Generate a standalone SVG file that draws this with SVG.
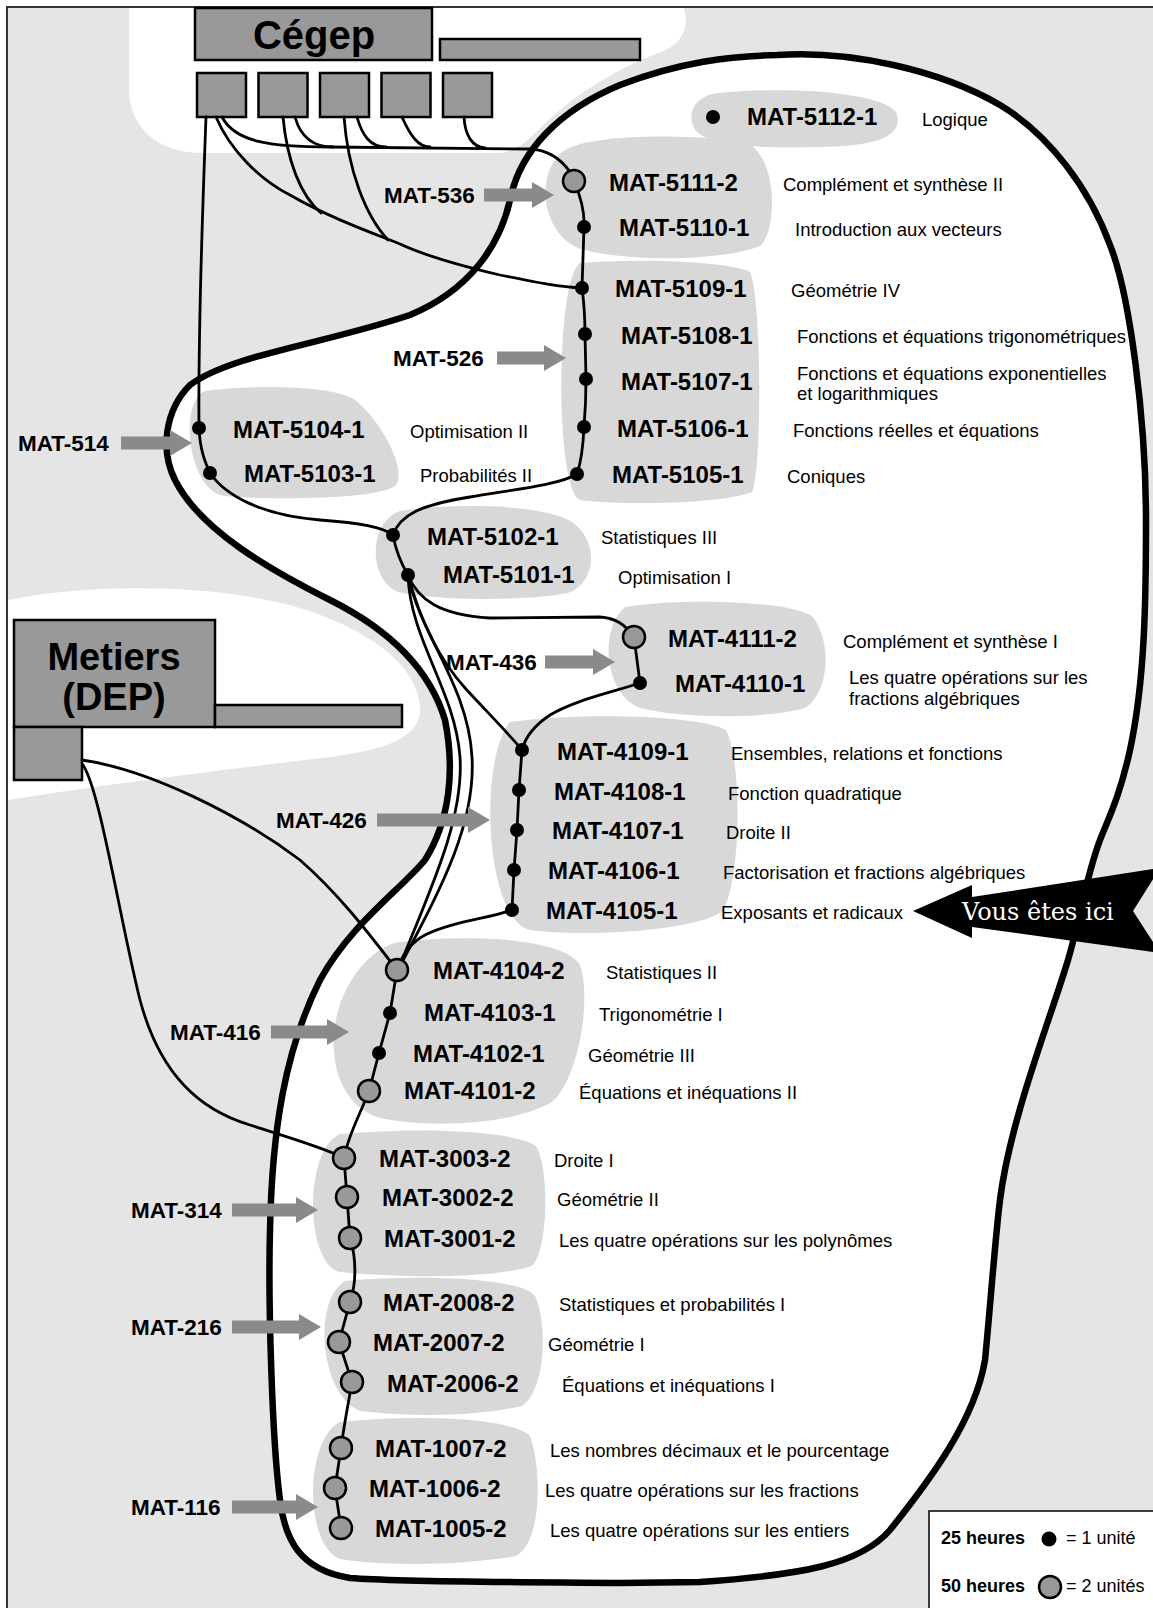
<svg xmlns="http://www.w3.org/2000/svg" width="1153" height="1608" viewBox="0 0 1153 1608">
<style>
.code{font-family:"Liberation Sans",Arial,sans-serif;font-weight:bold;font-size:24px;fill:#000}
.desc{font-family:"Liberation Sans",Arial,sans-serif;font-size:18.5px;fill:#000}
.side{font-family:"Liberation Sans",Arial,sans-serif;font-weight:bold;font-size:22.5px;fill:#000}
.conn{fill:none;stroke:#000;stroke-width:2.8;stroke-linecap:round}
.dot{fill:#000}
.circ{fill:#999;stroke:#000;stroke-width:2.5}
.blob{fill:#d8d8d8}
.arrow{fill:#8a8a8a}
.box{fill:#999;stroke:#000;stroke-width:2.5}
.leg{font-family:"Liberation Sans",Arial,sans-serif;font-size:18px;fill:#000}
</style>
<rect x="0" y="0" width="1153" height="1608" fill="#fff"/>
<rect x="7" y="7" width="1160" height="1620" fill="#e5e5e5" stroke="#333" stroke-width="2"/>
<path d="M129,8 L684,8 C690,30 680,45 661,52 C630,63 590,85 560,110 C535,130 525,150 500,153 L200,153 C155,152 129,125 129,90 Z" fill="#fff"/>
<path d="M8,600 C80,585 200,582 290,605 C360,625 415,660 420,705 C423,740 380,750 330,757 C220,770 100,785 8,800 Z" fill="#fff"/>
<g id="outline">
<path d="M777,55 C850,50 940,70 1000,105 C1050,135 1090,190 1110,245 C1130,295 1146,420 1146,520 C1146,600 1145,680 1130,750 C1120,795 1110,815 1100,840 C1085,880 1080,920 1068,960 C1050,1020 1010,1120 1000,1200 C995,1240 990,1310 985,1360 C975,1420 930,1480 890,1530 C860,1565 800,1575 700,1582 L620,1583 C500,1582 400,1582 350,1578 C300,1570 285,1540 280,1500 C272,1440 268,1300 270,1230 C272,1130 285,1050 320,980 C350,925 400,890 425,860 C450,820 455,770 445,720 C430,670 390,630 330,600 C270,570 200,530 175,480 C160,450 165,410 190,385 C230,355 320,345 410,315 C470,290 500,245 510,200 C520,150 560,110 620,85 C680,62 730,56 777,55 Z" fill="#fff" stroke="#000" stroke-width="6.5"/>
</g>
<g id="areas">
<path class="blob" d="M718,93 C790,86 880,92 896,112 C905,135 880,146 820,147 C760,148 705,147 694,128 C686,110 698,95 718,93 Z"/>
<path class="blob" d="M565,150 C595,133 690,134 745,142 C778,155 778,230 760,246 C720,262 620,262 578,248 C540,232 535,170 565,150 Z"/>
<path class="blob" d="M580,263 C650,258 730,262 750,272 C762,300 762,470 752,492 C720,505 610,505 580,500 C555,492 555,280 580,263 Z"/>
<path class="blob" d="M205,391 C260,384 335,386 355,400 C380,420 405,465 397,484 C385,500 270,500 225,496 C188,492 178,402 205,391 Z"/>
<path class="blob" d="M400,511 C460,502 545,505 572,522 C598,540 598,582 568,593 C520,602 430,600 398,592 C368,580 368,522 400,511 Z"/>
<path class="blob" d="M625,607 C680,598 785,600 812,616 C832,640 830,692 805,708 C760,720 680,718 640,708 C605,695 598,630 625,607 Z"/>
<path class="blob" d="M510,722 C580,712 700,715 726,730 C742,760 742,880 722,912 C690,932 580,937 530,930 C485,920 478,760 510,722 Z"/>
<path class="blob" d="M400,942 C470,934 565,938 580,965 C592,1000 578,1080 552,1102 C510,1126 430,1128 380,1118 C340,1106 328,1060 336,1020 C342,985 370,946 400,942 Z"/>
<path class="blob" d="M340,1134 C420,1127 512,1130 536,1146 C550,1170 548,1250 532,1266 C490,1279 400,1278 340,1272 C305,1265 303,1150 340,1134 Z"/>
<path class="blob" d="M345,1281 C420,1274 522,1278 535,1296 C547,1320 547,1388 522,1406 C470,1418 400,1416 360,1411 C320,1396 312,1300 345,1281 Z"/>
<path class="blob" d="M340,1422 C420,1414 512,1418 530,1436 C542,1470 542,1542 516,1556 C460,1566 380,1566 340,1559 C304,1545 304,1440 340,1422 Z"/>
</g>
<g id="cegep">
<rect class="box" x="195" y="8" width="237" height="52"/>
<text x="314" y="49" text-anchor="middle" style="font-family:'Liberation Sans',Arial,sans-serif;font-weight:bold;font-size:40px">Cégep</text>
<rect class="box" x="440" y="39" width="200" height="21"/>
<rect class="box" x="197" y="73" width="49" height="44"/>
<rect class="box" x="258.5" y="73" width="49" height="44"/>
<rect class="box" x="320" y="73" width="49" height="44"/>
<rect class="box" x="381.5" y="73" width="49" height="44"/>
<rect class="box" x="443" y="73" width="49" height="44"/>
</g>
<g id="metiers">
<rect class="box" x="14" y="620" width="201" height="107"/>
<text x="114" y="670" text-anchor="middle" style="font-family:'Liberation Sans',Arial,sans-serif;font-weight:bold;font-size:38px">Metiers</text>
<text x="114" y="710" text-anchor="middle" style="font-family:'Liberation Sans',Arial,sans-serif;font-weight:bold;font-size:38px">(DEP)</text>
<rect class="box" x="215" y="705" width="187" height="22"/>
<rect class="box" x="14" y="727" width="68" height="53"/>
</g>
<g id="connectors">
<path class="conn" d="M222,117 C235,142 270,147 330,147 L530,149 C550,150 563,162 570,172"/>
<path class="conn" d="M295,117 C300,135 312,147 333,147"/>
<path class="conn" d="M357,117 C362,135 370,147 386,147"/>
<path class="conn" d="M402,117 C410,135 418,147 430,147"/>
<path class="conn" d="M464,117 C465,135 472,147 485,148"/>
<path class="conn" d="M216,117 C230,150 260,180 290,195 C330,218 370,232 400,244 C430,258 470,268 500,275 C540,283 560,287 582,288"/>
<path class="conn" d="M283,117 C287,160 300,195 321,213"/>
<path class="conn" d="M344,117 C348,170 365,215 388,240"/>
<path class="conn" d="M206,117 C203,200 198,320 199,428 C200,450 205,462 210,473 C225,495 260,515 320,520 C360,523 383,527 393,535"/>
<path class="conn" d="M574,181 C580,195 585,210 584,227 L582,288 C585,310 585,320 585,334 L586,379 C586,400 585,415 584,427 C583,450 580,465 577,474 C560,485 510,490 470,497 C420,505 400,515 393,535"/>
<path class="conn" d="M393,535 C396,552 402,565 408,575"/>
<path class="conn" d="M408,575 C418,600 440,615 490,618 L600,617 C615,618 625,624 634,637 L640,683 C610,693 575,700 550,715 C535,725 525,738 522,750"/>
<path class="conn" d="M408,575 C420,620 440,660 465,688 C490,715 510,735 522,750"/>
<path class="conn" d="M408,575 C410,640 455,690 460,757 C464,820 430,890 398,970"/>
<path class="conn" d="M408,575 C420,635 468,685 472,757 C476,825 440,890 398,970"/>
<path class="conn" d="M522,750 L519,790 L517,830 L514,870 L512,910 C490,918 450,922 425,935 C410,943 402,955 397,970"/>
<path class="conn" d="M397,970 L390,1013 L379,1053 L369,1091 C360,1115 348,1135 344,1158 L347,1197 L350,1238 C357,1260 356,1285 350,1302 L339,1342 L352,1382 C348,1405 344,1425 341,1448 L335,1488 L341,1528"/>
<path class="conn" d="M82,760 C150,770 240,815 300,860 C340,895 370,935 397,970"/>
<path class="conn" d="M83,765 C100,790 120,920 140,1000 C160,1075 200,1110 250,1125 C290,1138 325,1148 344,1158"/>
</g>
<g id="n5112-1"><circle class="dot" cx="713" cy="117" r="7"/><text class="code" x="747" y="125">MAT-5112-1</text><text class="desc" x="922" y="126">Logique</text></g>
<g id="n5111-2"><circle class="circ" cx="574" cy="181" r="11"/><text class="code" x="609" y="191">MAT-5111-2</text><text class="desc" x="783" y="191">Complément et synthèse II</text></g>
<g id="n5110-1"><circle class="dot" cx="584" cy="227" r="7"/><text class="code" x="619" y="236">MAT-5110-1</text><text class="desc" x="795" y="236">Introduction aux vecteurs</text></g>
<g id="n5109-1"><circle class="dot" cx="582" cy="288" r="7"/><text class="code" x="615" y="297">MAT-5109-1</text><text class="desc" x="791" y="297">Géométrie IV</text></g>
<g id="n5108-1"><circle class="dot" cx="585" cy="334" r="7"/><text class="code" x="621" y="344">MAT-5108-1</text><text class="desc" x="797" y="343">Fonctions et équations trigonométriques</text></g>
<g id="n5107-1"><circle class="dot" cx="586" cy="379" r="7"/><text class="code" x="621" y="390">MAT-5107-1</text><text class="desc" x="797" y="380">Fonctions et équations exponentielles</text><text class="desc" x="797" y="400">et logarithmiques</text></g>
<g id="n5106-1"><circle class="dot" cx="584" cy="427" r="7"/><text class="code" x="617" y="437">MAT-5106-1</text><text class="desc" x="793" y="437">Fonctions réelles et équations</text></g>
<g id="n5105-1"><circle class="dot" cx="577" cy="474" r="7"/><text class="code" x="612" y="483">MAT-5105-1</text><text class="desc" x="787" y="483">Coniques</text></g>
<g id="n5104-1"><circle class="dot" cx="199" cy="428" r="7"/><text class="code" x="233" y="438">MAT-5104-1</text><text class="desc" x="410" y="438">Optimisation II</text></g>
<g id="n5103-1"><circle class="dot" cx="210" cy="473" r="7"/><text class="code" x="244" y="482">MAT-5103-1</text><text class="desc" x="420" y="482">Probabilités II</text></g>
<g id="n5102-1"><circle class="dot" cx="393" cy="535" r="7"/><text class="code" x="427" y="545">MAT-5102-1</text><text class="desc" x="601" y="544">Statistiques III</text></g>
<g id="n5101-1"><circle class="dot" cx="408" cy="575" r="7"/><text class="code" x="443" y="583">MAT-5101-1</text><text class="desc" x="618" y="584">Optimisation I</text></g>
<g id="n4111-2"><circle class="circ" cx="634" cy="637" r="11"/><text class="code" x="668" y="647">MAT-4111-2</text><text class="desc" x="843" y="648">Complément et synthèse I</text></g>
<g id="n4110-1"><circle class="dot" cx="640" cy="683" r="7"/><text class="code" x="675" y="692">MAT-4110-1</text><text class="desc" x="849" y="684">Les quatre opérations sur les</text><text class="desc" x="849" y="705">fractions algébriques</text></g>
<g id="n4109-1"><circle class="dot" cx="522" cy="750" r="7"/><text class="code" x="557" y="760">MAT-4109-1</text><text class="desc" x="731" y="760">Ensembles, relations et fonctions</text></g>
<g id="n4108-1"><circle class="dot" cx="519" cy="790" r="7"/><text class="code" x="554" y="800">MAT-4108-1</text><text class="desc" x="728" y="800">Fonction quadratique</text></g>
<g id="n4107-1"><circle class="dot" cx="517" cy="830" r="7"/><text class="code" x="552" y="839">MAT-4107-1</text><text class="desc" x="726" y="839">Droite II</text></g>
<g id="n4106-1"><circle class="dot" cx="514" cy="870" r="7"/><text class="code" x="548" y="879">MAT-4106-1</text><text class="desc" x="723" y="879">Factorisation et fractions algébriques</text></g>
<g id="n4105-1"><circle class="dot" cx="512" cy="910" r="7"/><text class="code" x="546" y="919">MAT-4105-1</text><text class="desc" x="721" y="919">Exposants et radicaux</text></g>
<g id="n4104-2"><circle class="circ" cx="397" cy="970" r="11"/><text class="code" x="433" y="979">MAT-4104-2</text><text class="desc" x="606" y="979">Statistiques II</text></g>
<g id="n4103-1"><circle class="dot" cx="390" cy="1013" r="7"/><text class="code" x="424" y="1021">MAT-4103-1</text><text class="desc" x="599" y="1021">Trigonométrie I</text></g>
<g id="n4102-1"><circle class="dot" cx="379" cy="1053" r="7"/><text class="code" x="413" y="1062">MAT-4102-1</text><text class="desc" x="588" y="1062">Géométrie III</text></g>
<g id="n4101-2"><circle class="circ" cx="369" cy="1091" r="11"/><text class="code" x="404" y="1099">MAT-4101-2</text><text class="desc" x="579" y="1099">Équations et inéquations II</text></g>
<g id="n3003-2"><circle class="circ" cx="344" cy="1158" r="11"/><text class="code" x="379" y="1167">MAT-3003-2</text><text class="desc" x="554" y="1167">Droite I</text></g>
<g id="n3002-2"><circle class="circ" cx="347" cy="1197" r="11"/><text class="code" x="382" y="1206">MAT-3002-2</text><text class="desc" x="557" y="1206">Géométrie II</text></g>
<g id="n3001-2"><circle class="circ" cx="350" cy="1238" r="11"/><text class="code" x="384" y="1247">MAT-3001-2</text><text class="desc" x="559" y="1247">Les quatre opérations sur les polynômes</text></g>
<g id="n2008-2"><circle class="circ" cx="350" cy="1302" r="11"/><text class="code" x="383" y="1311">MAT-2008-2</text><text class="desc" x="559" y="1311">Statistiques et probabilités I</text></g>
<g id="n2007-2"><circle class="circ" cx="339" cy="1342" r="11"/><text class="code" x="373" y="1351">MAT-2007-2</text><text class="desc" x="548" y="1351">Géométrie I</text></g>
<g id="n2006-2"><circle class="circ" cx="352" cy="1382" r="11"/><text class="code" x="387" y="1392">MAT-2006-2</text><text class="desc" x="562" y="1392">Équations et inéquations I</text></g>
<g id="n1007-2"><circle class="circ" cx="341" cy="1448" r="11"/><text class="code" x="375" y="1457">MAT-1007-2</text><text class="desc" x="550" y="1457">Les nombres décimaux et le pourcentage</text></g>
<g id="n1006-2"><circle class="circ" cx="335" cy="1488" r="11"/><text class="code" x="369" y="1497">MAT-1006-2</text><text class="desc" x="545" y="1497">Les quatre opérations sur les fractions</text></g>
<g id="n1005-2"><circle class="circ" cx="341" cy="1528" r="11"/><text class="code" x="375" y="1537">MAT-1005-2</text><text class="desc" x="550" y="1537">Les quatre opérations sur les entiers</text></g>
<g id="s536"><text class="side" x="384" y="203">MAT-536</text><polygon class="arrow" points="484,188.5 532,188.5 532,182 554,195 532,208 532,201.5 484,201.5"/></g>
<g id="s526"><text class="side" x="393" y="366">MAT-526</text><polygon class="arrow" points="497,351.5 544,351.5 544,345 566,358 544,371 544,364.5 497,364.5"/></g>
<g id="s514"><text class="side" x="18" y="451">MAT-514</text><polygon class="arrow" points="121,436.5 170,436.5 170,430 192,443 170,456 170,449.5 121,449.5"/></g>
<g id="s436"><text class="side" x="446" y="670">MAT-436</text><polygon class="arrow" points="545,655.5 593,655.5 593,649 615,662 593,675 593,668.5 545,668.5"/></g>
<g id="s426"><text class="side" x="276" y="828">MAT-426</text><polygon class="arrow" points="377,813.5 468,813.5 468,807 490,820 468,833 468,826.5 377,826.5"/></g>
<g id="s416"><text class="side" x="170" y="1040">MAT-416</text><polygon class="arrow" points="271,1025.5 327,1025.5 327,1019 349,1032 327,1045 327,1038.5 271,1038.5"/></g>
<g id="s314"><text class="side" x="131" y="1218">MAT-314</text><polygon class="arrow" points="232,1203.5 296,1203.5 296,1197 318,1210 296,1223 296,1216.5 232,1216.5"/></g>
<g id="s216"><text class="side" x="131" y="1335">MAT-216</text><polygon class="arrow" points="232,1320.5 299,1320.5 299,1314 321,1327 299,1340 299,1333.5 232,1333.5"/></g>
<g id="s116"><text class="side" x="131" y="1515">MAT-116</text><polygon class="arrow" points="232,1500.5 296,1500.5 296,1494 318,1507 296,1520 296,1513.5 232,1513.5"/></g>
<g id="here">
<polygon points="913,911 972,885 972,897 1160,868 1133,911 1160,953 972,927 972,938" fill="#000"/>
<text x="962" y="920" style="font-family:'DejaVu Serif',serif;font-size:24px;fill:#fff">Vous êtes ici</text>
</g>
<g id="legend">
<rect x="929" y="1511" width="240" height="120" fill="#fff" stroke="#000" stroke-width="1.5"/>
<text class="leg" x="941" y="1544" font-weight="bold">25 heures</text>
<circle class="dot" cx="1049" cy="1539" r="7.5"/>
<text class="leg" x="1066" y="1544">= 1 unité</text>
<text class="leg" x="941" y="1592" font-weight="bold">50 heures</text>
<circle class="circ" cx="1050" cy="1587" r="11"/>
<text class="leg" x="1066" y="1592">= 2 unités</text>
</g>
</svg>
